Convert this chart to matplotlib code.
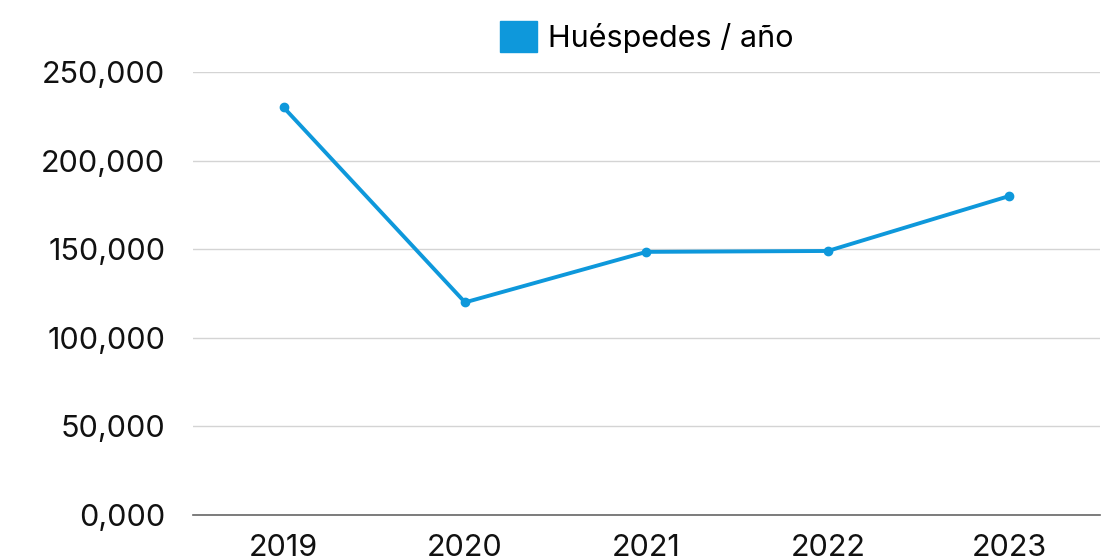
import matplotlib
matplotlib.use('Agg')
import matplotlib.pyplot as plt
from matplotlib.ticker import FuncFormatter, MultipleLocator
from matplotlib.patches import Patch

anios = ['2019', '2020', '2021', '2022', '2023']
huespedes = [230000, 120000, 148500, 149000, 180000]

plt.rcParams['font.family'] = ['Inter', 'DejaVu Sans']

color = '#0E98DB'

fig = plt.figure(figsize=(11.11, 5.59), dpi=100)
ax = fig.add_axes([0.1737, 0.0787, 0.8163, 0.7925])

ax.plot(range(len(anios)), huespedes, color=color, linewidth=2.8,
        marker='o', markersize=6, clip_on=False)

ax.set_xlim(-0.5, len(anios) - 0.5)
ax.set_ylim(0, 250000)
ax.set_xticks(range(len(anios)))
ax.set_xticklabels(anios)
ax.yaxis.set_major_locator(MultipleLocator(50000))
ax.yaxis.set_major_formatter(FuncFormatter(lambda v, p: '{:.3f}'.format(v / 1000).replace('.', ',')))

ax.grid(axis='y', color='#d4d4d4', linewidth=1)
ax.set_axisbelow(True)
for s in ['top', 'right', 'left']:
    ax.spines[s].set_visible(False)
ax.spines['bottom'].set_color('#666666')
ax.spines['bottom'].set_linewidth(1.2)

ax.tick_params(axis='both', length=0, labelsize=22, colors='#111111')
ax.tick_params(axis='y', pad=20)
ax.tick_params(axis='x', pad=14)

handle = Patch(facecolor=color, edgecolor=color, label='Huéspedes / año')
fig.legend(handles=[handle], loc='upper center', bbox_to_anchor=(0.582, 1.012),
           frameon=False, fontsize=22, handlelength=1.2, handleheight=1.2,
           handletextpad=0.35)

fig.savefig('out.png', dpi=100)
